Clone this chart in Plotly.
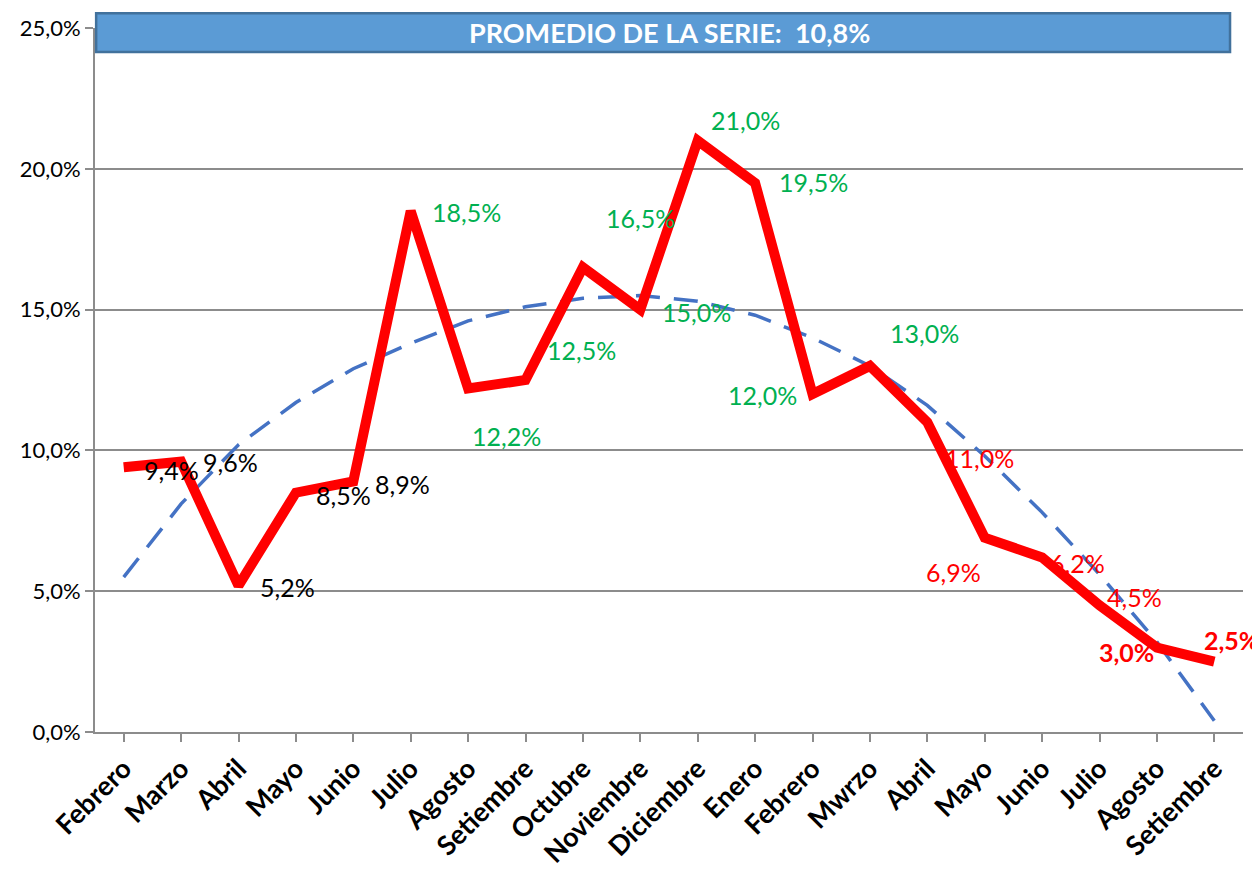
import plotly.graph_objects as go

categories = ["Febrero", "Marzo", "Abril", "Mayo", "Junio", "Julio", "Agosto", "Setiembre",
              "Octubre", "Noviembre", "Diciembre", "Enero", "Febrero ", "Mwrzo", "Abril ",
              "Mayo ", "Junio ", "Julio ", "Agosto ", "Setiembre "]
values = [9.4, 9.6, 5.2, 8.5, 8.9, 18.5, 12.2, 12.5, 16.5, 15.0, 21.0, 19.5, 12.0, 13.0,
          11.0, 6.9, 6.2, 4.5, 3.0, 2.5]
trend = [5.5, 8.1, 10.2, 11.7, 12.9, 13.8, 14.6, 15.1, 15.4, 15.5, 15.3, 14.8, 14.0, 13.0,
         11.6, 9.8, 7.8, 5.6, 3.2, 0.4]
label_colors = ["#000000"] * 5 + ["#00B050"] * 9 + ["#FF0000"] * 6
label_bold = [False] * 18 + [True, True]
label_dx = [48, 49, 49, 48, 49, 56, 38, 56, 58, 56, 48, 58, -50, 55, 52, -31, 35, 35, -30, 17]
label_dy = [-3, 0, -1, -2, -3, -1, -48, 30, 49, -2, 21, 1, -1, 33, -36, -34, -6, 8, -4, 22]
title_text = "PROMEDIO DE LA SERIE:  10,8%"
y_ticks = [0, 5, 10, 15, 20, 25]
y_tick_text = ["0,0%", "5,0%", "10,0%", "15,0%", "20,0%", "25,0%"]

FONT = "Lato, Open Sans, sans-serif"
xidx = list(range(len(categories)))

fig = go.Figure()
fig.add_trace(go.Scatter(x=xidx, y=trend, mode="lines",
                         line=dict(color="#4472C4", width=3.5, dash="24px,14px"),
                         hoverinfo="skip", showlegend=False))
fig.add_trace(go.Scatter(x=xidx, y=values, mode="lines",
                         line=dict(color="#FF0000", width=10), showlegend=False))

for i, v in enumerate(values):
    txt = f"{v:.1f}%".replace(".", ",")
    if label_bold[i]:
        txt = f"<b>{txt}</b>"
    fig.add_annotation(x=i, y=v, xref="x", yref="y", text=txt, showarrow=False,
                       xshift=label_dx[i], yshift=label_dy[i],
                       font=dict(family=FONT, size=25, color=label_colors[i]))

fig.add_shape(type="rect", xref="paper", yref="paper", x0=0.001, x1=0.9887, y0=0.966, y1=1.021,
              fillcolor="#5B9BD5", line=dict(color="#41719C", width=2.5), layer="above")
fig.add_annotation(x=0.5, y=0.9943, xref="paper", yref="paper", xanchor="center",
                   yanchor="middle", text=f"<b>{title_text}</b>",
                   showarrow=False, font=dict(family=FONT, size=27, color="white"))

fig.update_layout(
    width=1252, height=865,
    margin=dict(l=87, r=17, t=20, b=141, autoexpand=False),
    plot_bgcolor="white", paper_bgcolor="white",
    font=dict(family=FONT, color="black"),
)
fig.update_xaxes(
    range=[-0.5, len(categories) - 0.5], automargin=False,
    tickmode="array", tickvals=xidx, ticktext=[f"<b>{c.strip()}</b>" for c in categories],
    tickangle=-45, tickfont=dict(size=27, family=FONT, color="black"),
    showline=True, linecolor="#8C8C8C", linewidth=2,
    ticks="outside", ticklen=8, tickcolor="#8C8C8C", tickwidth=2,
    showgrid=False, zeroline=False, tickson="boundaries",
)
fig.update_yaxes(
    range=[0, 25], automargin=False, tickmode="array", tickvals=y_ticks, ticktext=y_tick_text,
    tickfont=dict(size=22, family=FONT, color="black"),
    showline=True, linecolor="#8C8C8C", linewidth=2,
    ticks="outside", ticklen=8, tickcolor="#8C8C8C", tickwidth=2,
    showgrid=True, gridcolor="#8C8C8C", gridwidth=2, zeroline=False,
)

fig.write_html("out.html")
